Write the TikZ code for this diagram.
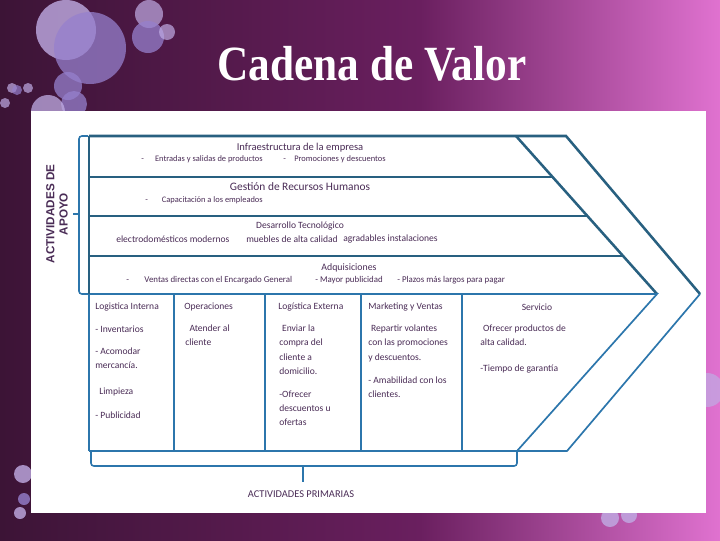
\documentclass[tikz,border=0pt]{standalone}
\usepackage{fontspec}
\setmainfont{Carlito}
\newfontfamily\titlefont[FakeStretch=0.88]{Liberation Serif}
\newfontfamily\apoyofont{Liberation Sans}
\usetikzlibrary{positioning}

\definecolor{bgdark}{RGB}{60,20,54}
\definecolor{bgmid}{RGB}{106,31,95}
\definecolor{bgpink}{RGB}{224,114,208}
\definecolor{bubble}{RGB}{192,172,228}
\definecolor{bubbledeep}{RGB}{150,128,205}
\definecolor{supline}{RGB}{40,96,128}
\definecolor{priline}{RGB}{44,118,172}
\definecolor{txt}{RGB}{74,44,86}

\begin{document}
\begin{tikzpicture}[x=0.025cm,y=-0.025cm,
			lbl/.style={
				text=txt,
				inner sep=0pt,
				anchor=west,
				font=\fontsize{6.8}{10}\selectfont
			},
			small/.style={lbl,font=\fontsize{6}{8}\selectfont},
			blk/.style={lbl,anchor=north west,align=left},
			head/.style={lbl,anchor=center},
			supbar/.style={draw=supline,line width=1.8pt},
			pribar/.style={draw=priline,line width=1.2pt},
			brace/.style={draw=priline,line width=1.1pt,rounded corners=2pt}]
			
			\useasboundingbox (0,0) rectangle (720,540);
			
			% background and bubbles
			\shade[left color=bgdark,right color=bgmid] (0,0) rectangle (421,540);
			\shade[left color=bgmid,right color=bgpink] (420,0) rectangle (720,540);
			
			\fill[bubble,opacity=.8] (66,30) circle[radius=30];
			\fill[bubbledeep,opacity=.75] (90,48) circle[radius=36];
			\fill[bubble,opacity=.7] (149,14) circle[radius=14];
			\fill[bubbledeep,opacity=.75] (148,37) circle[radius=16];
			\fill[bubble,opacity=.7] (167,32) circle[radius=8];
			\fill[bubbledeep,opacity=.75] (68,86) circle[radius=14];
			\fill[bubbledeep,opacity=.75] (74,104) circle[radius=13];
			\fill[bubble,opacity=.75] (48,112) circle[radius=17];
			\fill[bubble,opacity=.7] (12,88) circle[radius=5];
			\fill[bubbledeep,opacity=.7] (17,90) circle[radius=5];
			\fill[bubble,opacity=.7] (28,88) circle[radius=5];
			\fill[bubble,opacity=.7] (5,103) circle[radius=5];
			\fill[bubble,opacity=.8] (23,474) circle[radius=9];
			\fill[bubbledeep,opacity=.8] (24,499) circle[radius=6];
			\fill[bubble,opacity=.8] (20,513) circle[radius=6];
			\fill[bubble,opacity=.7] (707,390) circle[radius=17];
			\fill[bubble,opacity=.8] (610,518) circle[radius=9];
			\fill[bubble,opacity=.8] (629,515) circle[radius=8];
			
			\node (title)[anchor=center,text=white,inner sep=0pt,
				font=\titlefont\bfseries\fontsize{35}{35}\selectfont] at (372,64){Cadena de Valor};
			
			\fill[white] (31,111) rectangle (706,513);
			
			% chevron
			\coordinate (topIn) at (516,136);
			\coordinate (topOut) at (566,136);
			\coordinate (tipIn) at (657,294);
			\coordinate (tipOut) at (700,294);
			\coordinate (botIn) at (517,451);
			\coordinate (botOut) at (567,451);
			
			\draw[supbar] (89,136)--(topOut)--(tipOut);
			\draw[supbar] (topIn)--(tipIn);
			\draw[supbar] (89,177)--(553,177);
			\draw[supbar] (89,216)--(588,216);
			\draw[supbar] (89,256)--(623,256);
			\draw[pribar] (89,294)--(tipIn)--(botIn);
			\draw[pribar] (tipOut)--(botOut)--(89,451);
			\draw[supbar] (89,136)--(89,294);
			\draw[pribar] (89,294)--(89,451);
			\foreach \x in {174,265,361,462}
				\draw[pribar] (\x,294)--(\x,451);
			
			% braces
			\draw[brace] (88,136)--(79,136)--(79,294)--(88,294);
			\draw[brace] (79,214)--(73,214);
			\draw[brace] (91,451)--(91,466)--(517,466)--(517,451);
			\draw[brace] (303,466)--(303,482);
			
			\node (apoyo)[anchor=center,text=txt,inner sep=0pt,align=center,rotate=90,
				font=\apoyofont\bfseries\fontsize{8.3}{9.5}\selectfont] at (57,214){ACTIVIDADES DE\\APOYO};
			\node (primarias)[head,font=\fontsize{7.4}{9}\selectfont] at (301,494){ACTIVIDADES PRIMARIAS};
			
			% support activities
			\node (infra)[head,font=\fontsize{7.5}{9}\selectfont] at (300,148){Infraestructura de la empresa};
			\node (infraA)[small] at (141,159){-\hspace{8pt}Entradas y salidas de productos};
			\node (infraB)[small] at (283,159){-\hspace{6pt}Promociones y descuentos};
			
			\node (rrhh)[head,font=\fontsize{8.1}{10}\selectfont] at (300,187){Gestión de Recursos Humanos};
			\node (rrhhA)[small] at (145,200){-\hspace{10pt}Capacitación a los empleados};
			
			\node (tec)[head] at (300,226){Desarrollo Tecnológico};
			\node (tecA)[lbl] at (116,239){electrodomésticos modernos};
			\node (tecB)[lbl] at (246,239){muebles de alta calidad};
			\node (tecC)[lbl] at (343,239){agradables instalaciones};
			
			\node (adq)[head,font=\fontsize{7}{9}\selectfont] at (349,268){Adquisiciones};
			\node (adqA)[lbl,font=\fontsize{6.3}{8}\selectfont] at (126,280){-\hspace{11pt}Ventas directas con el Encargado General};
			\node (adqB)[lbl,font=\fontsize{6.3}{8}\selectfont] at (315,280){- Mayor publicidad};
			\node (adqC)[lbl,font=\fontsize{6.3}{8}\selectfont] at (397,280){- Plazos más largos para pagar};
			
			% primary activities
			\node (logIn)[lbl] at (95,307){Logistica Interna};
			\node (oper)[lbl] at (184,307){Operaciones};
			\node (logEx)[lbl] at (278,307){Logística Externa};
			\node (mkt)[lbl] at (368,307){Marketing y Ventas};
			\node (serv)[head] at (537,307){Servicio};
			
			\node (logInA)[lbl] at (95,329){- Inventarios};
			\node (logInB)[blk] at (95,348){- Acomodar\\mercancía.};
			\node (logInC)[lbl] at (99,392){Limpieza};
			\node (logInD)[lbl] at (95,415){- Publicidad};
			
			\node (operA)[blk] at (185,325){\hspace{3pt}Atender al\\cliente};
			
			\node (logExA)[blk] at (279,325){\hspace{2pt}Enviar la\\compra del\\cliente a\\domicilio.};
			\node (logExB)[blk] at (279,391){-Ofrecer\\descuentos u\\ofertas};
			
			\node (mktA)[blk] at (368,325){\hspace{2pt}Repartir volantes\\con las promociones\\y descuentos.};
			\node (mktB)[blk] at (368,377){- Amabilidad con los\\clientes.};
			
			\node (servA)[blk] at (480,325){\hspace{2pt}Ofrecer productos de\\alta calidad.};
			\node (servB)[lbl] at (480,369){-Tiempo de garantía};
			
		\end{tikzpicture}
\end{document}
